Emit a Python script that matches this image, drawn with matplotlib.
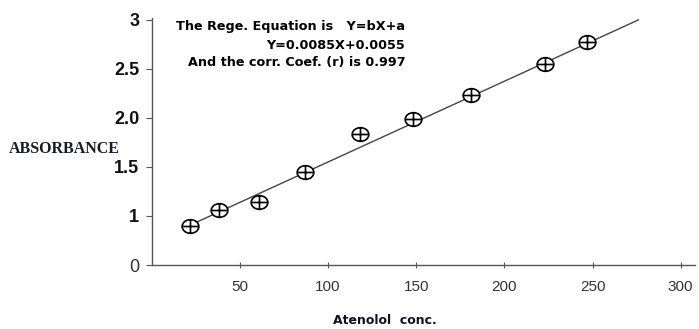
import numpy as np
import matplotlib
matplotlib.use("Agg")
import matplotlib.pyplot as plt
from matplotlib.path import Path

# ---- data ----
conc = [22, 38, 61, 87, 118, 148, 181, 223, 247]
absorbance = [0.80, 1.06, 1.14, 1.45, 1.84, 1.99, 2.23, 2.55, 2.77]
fit_x = [21, 276]
fit_y = [0.80, 3.0]
x_ticks = [50, 100, 150, 200, 250, 300]
x_tick_labels = ["50", "100", "150", "200", "250", "300"]
y_ticks = [0, 1, 1.5, 2.0, 2.5, 3]
y_tick_labels = ["0", "1", "1.5", "2.0", "2.5", "3"]
eq_lines = ["The Rege. Equation is   Y=bX+a",
            "Y=0.0085X+0.0055",
            "And the corr. Coef. (r) is 0.997"]

# compressed 0..1 segment of the y axis (as drawn in the original)
def fwd(v):
    v = np.asarray(v, dtype=float)
    return np.where(v < 1, v * 0.5, v - 0.5)

def inv(p):
    p = np.asarray(p, dtype=float)
    return np.where(p < 0.5, p * 2.0, p + 0.5)

# ellipse-with-cross marker
circ = Path.unit_circle()
ell = Path(circ.vertices * np.array([1.0, 0.82]), circ.codes)
cross = Path([(-1, 0), (1, 0), (0, -0.82), (0, 0.82)],
             [Path.MOVETO, Path.LINETO, Path.MOVETO, Path.LINETO])
marker = Path.make_compound_path(ell, cross)

fig = plt.figure(figsize=(6.99, 3.29), dpi=100)
ax = fig.add_axes([0.217, 0.1945, 0.777, 0.751])
ax.set_yscale('function', functions=(fwd, inv))

ax.plot(fit_x, fit_y, color='#444444', lw=1.0, zorder=2)
ax.plot(conc, absorbance, linestyle='none', marker=marker, markersize=12,
        markerfacecolor='white', markeredgecolor='black', markeredgewidth=1.2,
        zorder=3)

ax.set_xlim(0, 308)
ax.set_ylim(0, 3.02)

for s in ['top', 'right']:
    ax.spines[s].set_visible(False)
for s in ['left', 'bottom']:
    ax.spines[s].set_color('#555555')
    ax.spines[s].set_linewidth(1.0)

ax.set_xticks(x_ticks)
ax.set_xticklabels(x_tick_labels, fontfamily='Liberation Sans', fontsize=11,
                   color='#333333')
ax.tick_params(axis='x', direction='inout', length=5, width=0.8,
               color='#555555', pad=8)

ax.set_yticks(y_ticks)
ax.set_yticklabels(y_tick_labels, fontfamily='Liberation Sans', fontsize=13,
                   fontweight='bold', color='#111111')
ax.yaxis.get_ticklabels()[0].set_fontweight('normal')
ax.yaxis.get_ticklabels()[0].set_color('#333333')
ax.tick_params(axis='y', direction='out', length=4, width=0.8,
               color='#555555', pad=5)
ax.minorticks_off()

fig.text(0.551, 0.005, "Atenolol  conc.", ha='center', va='bottom',
         fontfamily='DejaVu Sans', fontsize=9, fontweight='bold',
         color='#111122')
fig.text(0.013, 0.548, "ABSORBANCE", ha='left', va='center',
         fontfamily='Liberation Serif', fontsize=11.5, fontweight='bold',
         color='#1a1a2a')

ys = [0.918, 0.862, 0.81]
for t, y in zip(eq_lines, ys):
    fig.text(0.580, y, t, ha='right', va='center',
             fontfamily='DejaVu Sans', fontsize=9.2, fontweight='bold',
             color='black')

fig.savefig("out.png", dpi=100)
